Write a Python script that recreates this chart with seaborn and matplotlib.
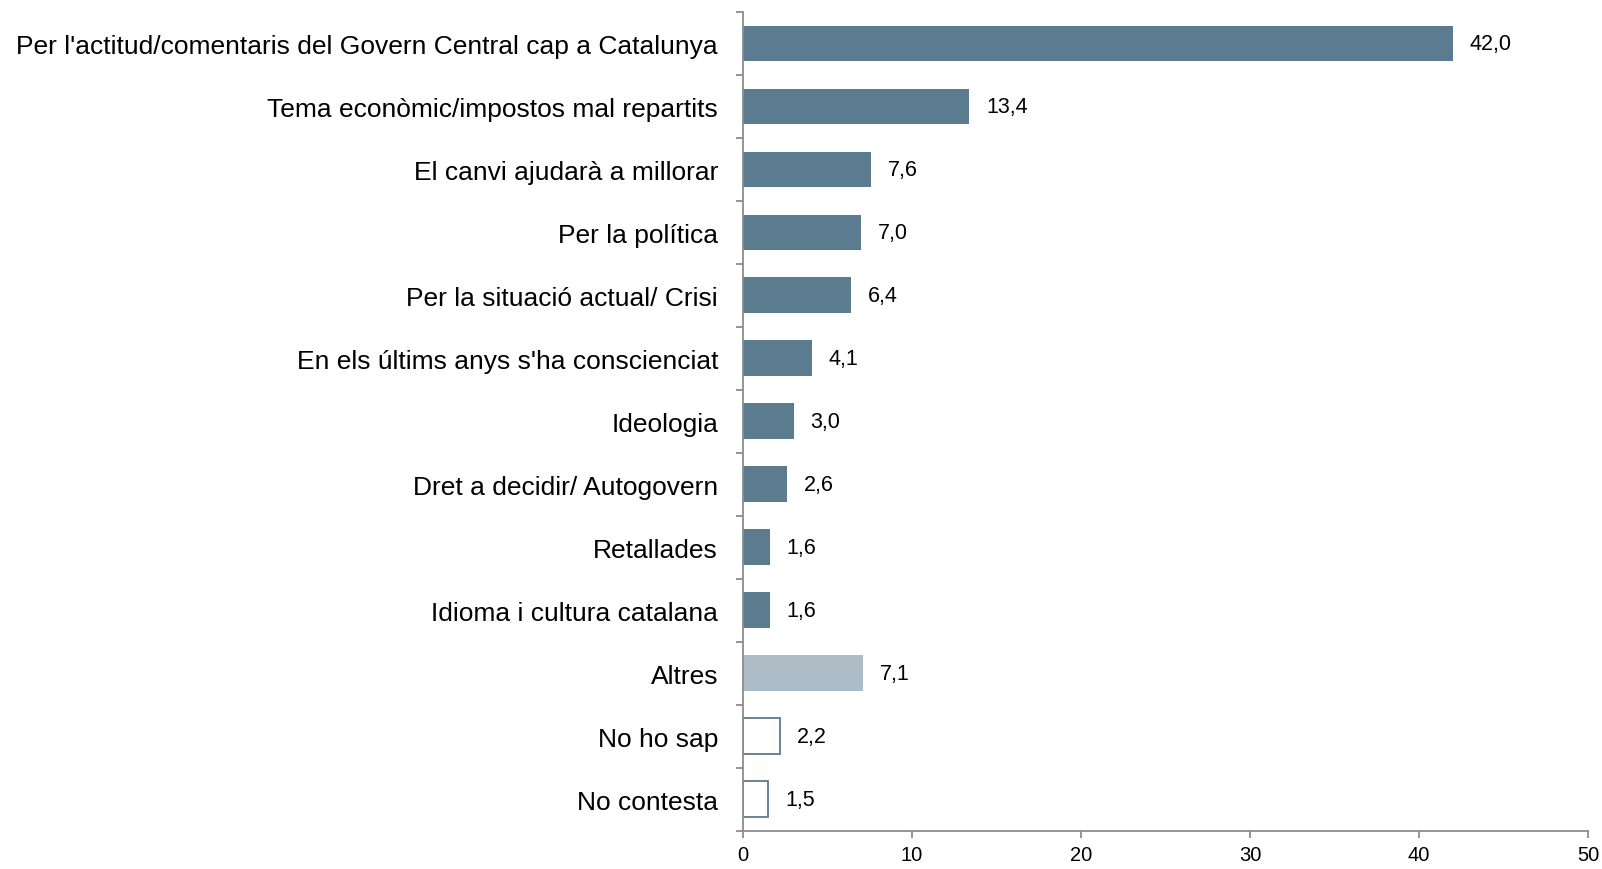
import numpy as np
import pandas as pd
import matplotlib
matplotlib.use("Agg")
import matplotlib.pyplot as plt
import seaborn as sns

categories = [
    "Per l'actitud/comentaris del Govern Central cap a Catalunya",
    "Tema econòmic/impostos mal repartits",
    "El canvi ajudarà a millorar",
    "Per la política",
    "Per la situació actual/ Crisi",
    "En els últims anys s'ha conscienciat",
    "Ideologia",
    "Dret a decidir/ Autogovern",
    "Retallades",
    "Idioma i cultura catalana",
    "Altres",
    "No ho sap",
    "No contesta",
]
values = [42.0, 13.4, 7.6, 7.0, 6.4, 4.1, 3.0, 2.6, 1.6, 1.6, 7.1, 2.2, 1.5]
x_ticks = [0, 10, 20, 30, 40, 50]

dark = "#5B7B8F"
light = "#ADBCC6"
axis_grey = "#8C8C8C"
colors = [dark] * 10 + [light, "white", "white"]

sns.set_style("white")
plt.rcParams["font.family"] = ["Liberation Sans", "DejaVu Sans"]
plt.rcParams["text.color"] = "black"
plt.rcParams["xtick.color"] = "black"
plt.rcParams["ytick.color"] = "black"

df = pd.DataFrame({"cat": categories, "val": values})

fig = plt.figure(figsize=(16.02, 8.7), dpi=100)
ax = fig.add_axes([0.4638, 0.044, 0.9913 - 0.4638, 0.985 - 0.044])

sns.barplot(data=df, x="val", y="cat", hue="cat", palette=colors, legend=False,
            width=0.57, ax=ax, saturation=1)

# last two bars are outlined only
for i, p in enumerate(ax.patches):
    if i >= 11:
        p.set_facecolor("white")
        p.set_edgecolor(dark)
        p.set_linewidth(1.3)
    else:
        p.set_edgecolor("none")

for c in ax.containers:
    ax.bar_label(c, labels=[f"{v:.1f}".replace(".", ",") for v in c.datavalues],
                 padding=12, fontsize=15.5, color="black")

ax.set_xlim(0, 50)
ax.set_ylim(len(categories) - 0.5, -0.5)
ax.set_xticks(x_ticks)
ax.set_xticklabels([str(t) for t in x_ticks], fontsize=14.5)
ax.set_xlabel("")
ax.set_ylabel("")
ax.tick_params(axis="y", which="major", length=0, labelsize=19, pad=18)
ax.set_yticks(np.arange(-0.5, len(categories), 1), minor=True)
ax.tick_params(axis="y", which="minor", length=5, color=axis_grey, width=1.3, direction="out", left=True)
ax.tick_params(axis="x", length=5, color=axis_grey, width=1.3, direction="out", bottom=True, pad=5)

for s in ["top", "right"]:
    ax.spines[s].set_visible(False)
for s in ["left", "bottom"]:
    ax.spines[s].set_color(axis_grey)
    ax.spines[s].set_linewidth(1.3)

fig.savefig("out.png", dpi=100)
